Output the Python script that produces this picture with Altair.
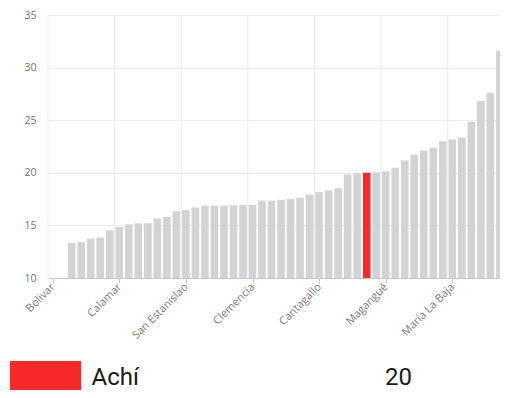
import altair as alt
import pandas as pd

# ---- data ----
values = [None, None, 13.33, 13.4, 13.74, 13.84, 14.53, 14.85, 15.1, 15.2, 15.2,
          15.65, 15.8, 16.35, 16.45, 16.7, 16.88, 16.88, 16.88, 16.9, 16.92, 16.95,
          17.36, 17.36, 17.43, 17.52, 17.62, 17.93, 18.19, 18.32, 18.53, 19.84,
          19.97, 20.0, 20.06, 20.15, 20.47, 21.17, 21.71, 22.12, 22.38, 23.0,
          23.17, 23.33, 24.82, 26.82, 27.62, 31.6]
tick_index = [0, 7, 14, 21, 28, 35, 42]
tick_labels = ["Bolivar", "Calamar", "San Estanislao", "Clemencia",
               "Cantagallo", "Magangué", "María La Baja"]
y_ticks = [10, 15, 20, 25, 30, 35]
highlight_index = 33
highlight_name = "Achí"
highlight_value = 20

RED = "#f8292a"
GRAY = "#d1d3d4"
GRID = "#ebebeb"
W, H = 452, 263

rows = []
for i, v in enumerate(values):
    if v is None:
        continue
    if i == highlight_index:
        v = highlight_value
    rows.append({"idx": i, "value": v, "hl": i == highlight_index})
bars_df = pd.DataFrame(rows)
grid_df = pd.DataFrame({"idx": tick_index})
legend_df = pd.DataFrame({"name": [highlight_name], "value": [highlight_value]})

x_scale = alt.Scale(domain=[0, 47.5], nice=False, zero=False)
y_scale = alt.Scale(domain=[10, 35], nice=False, zero=False)

label_expr = ("{" + ", ".join(f"'{i}': '{n}'" for i, n in zip(tick_index, tick_labels))
              + "}[''+floor(datum.value)]")

x_axis = alt.Axis(
    values=[i + 0.5 for i in tick_index], labelExpr=label_expr,
    grid=False, ticks=True, tickSize=5, tickColor="#c8c8c8",
    domain=True, domainColor="#c8c8c8", labelAngle=-45,
    labelAlign="right", labelBaseline="middle", labelFontSize=11,
    labelColor="#7a7a7a", labelFont="Open Sans", labelPadding=2,
    labelFlush=False, labelOverlap=False, title=None)

vgrid = alt.Chart(grid_df).mark_rule(color=GRID, strokeWidth=1).encode(
    x=alt.X("idx:Q", scale=x_scale, axis=x_axis),
    y=alt.value(0),
    y2=alt.value(H),
)

bars = alt.Chart(bars_df).transform_calculate(
    x0="datum.idx + 0.09", x1="datum.idx + 0.89"
).mark_bar(clip=True).encode(
    x=alt.X("x0:Q", scale=x_scale, axis=x_axis),
    x2="x1:Q",
    y=alt.Y("value:Q", scale=y_scale, axis=alt.Axis(
        values=y_ticks, grid=True, gridColor=GRID, domain=False, ticks=False,
        labelPadding=12, labelFontSize=10.5, labelColor="#707070",
        labelFont="Open Sans", title=None)),
    y2=alt.datum(10),
    color=alt.condition(alt.datum.hl, alt.value(RED), alt.value(GRAY)),
)

swatch = alt.Chart(legend_df).mark_rect(color=RED).encode(
    x=alt.value(-38), x2=alt.value(33), y=alt.value(346), y2=alt.value(400)
)
name_text = alt.Chart(legend_df).mark_text(
    align="left", baseline="alphabetic", font="Roboto", fontSize=24, color="#1a1a1a"
).encode(text="name:N", x=alt.value(43.5), y=alt.value(370))
value_text = alt.Chart(legend_df).mark_text(
    align="left", baseline="alphabetic", font="Roboto", fontSize=24, color="#1a1a1a"
).encode(text="value:Q", x=alt.value(337), y=alt.value(370))

chart = alt.layer(vgrid, bars, swatch, name_text, value_text).properties(
    width=W, height=H,
    autosize=alt.AutoSizeParams(type="none"),
    padding={"left": 40, "top": 7, "right": 0, "bottom": 112},
).configure_view(stroke=None)

chart.save("out.html", embed_options={"renderer": "svg", "actions": False})
